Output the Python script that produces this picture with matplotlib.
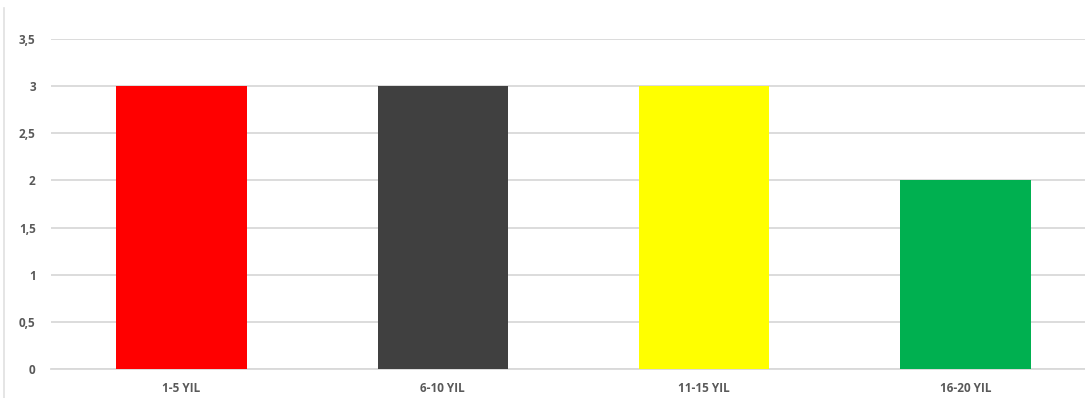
import matplotlib
matplotlib.use("Agg")
import matplotlib.pyplot as plt
from matplotlib.lines import Line2D

categories = ["1-5 YIL", "6-10 YIL", "11-15 YIL", "16-20 YIL"]
values = [3, 3, 3, 2]
colors = ["#FF0000", "#404040", "#FFFF00", "#00B050"]
yticks = [0, 0.5, 1, 1.5, 2, 2.5, 3, 3.5]
ytick_labels = ["0", "0,5", "1", "1,5", "2", "2,5", "3", "3,5"]

W, H = 1085, 398
fig = plt.figure(figsize=(W/100, H/100), dpi=100)
left, right = 51, 1096
bottom, top = 29, 359
ax = fig.add_axes([left/W, bottom/H, (right-left)/W, (top-bottom)/H])

x = list(range(len(categories)))
ax.bar(x, values, width=0.5, color=colors, zorder=3)
ax.set_xlim(-0.5, len(categories) - 0.5)
ax.set_ylim(0, 3.5)
ax.set_yticks(yticks)
ax.set_yticklabels(ytick_labels)
ax.set_xticks(x)
ax.set_xticklabels(categories)
ax.yaxis.grid(True, color="#D9D9D9", linewidth=1.3, zorder=0)
for s in ["top", "right", "left"]:
    ax.spines[s].set_visible(False)
ax.spines["bottom"].set_color("#D9D9D9")
ax.spines["bottom"].set_linewidth(1.3)
ax.tick_params(axis="both", length=0, colors="#595959", labelsize=8.5)
ax.tick_params(axis="y", pad=11)
ax.tick_params(axis="x", pad=9)
for lab in ax.get_xticklabels() + ax.get_yticklabels():
    lab.set_fontweight("bold")
    lab.set_fontfamily("Open Sans")

fig.add_artist(Line2D([4/W, 4/W], [0, 1 - 8/H], transform=fig.transFigure,
                      color="#E0E0E0", linewidth=1.2))

fig.savefig("out.png", dpi=100)
